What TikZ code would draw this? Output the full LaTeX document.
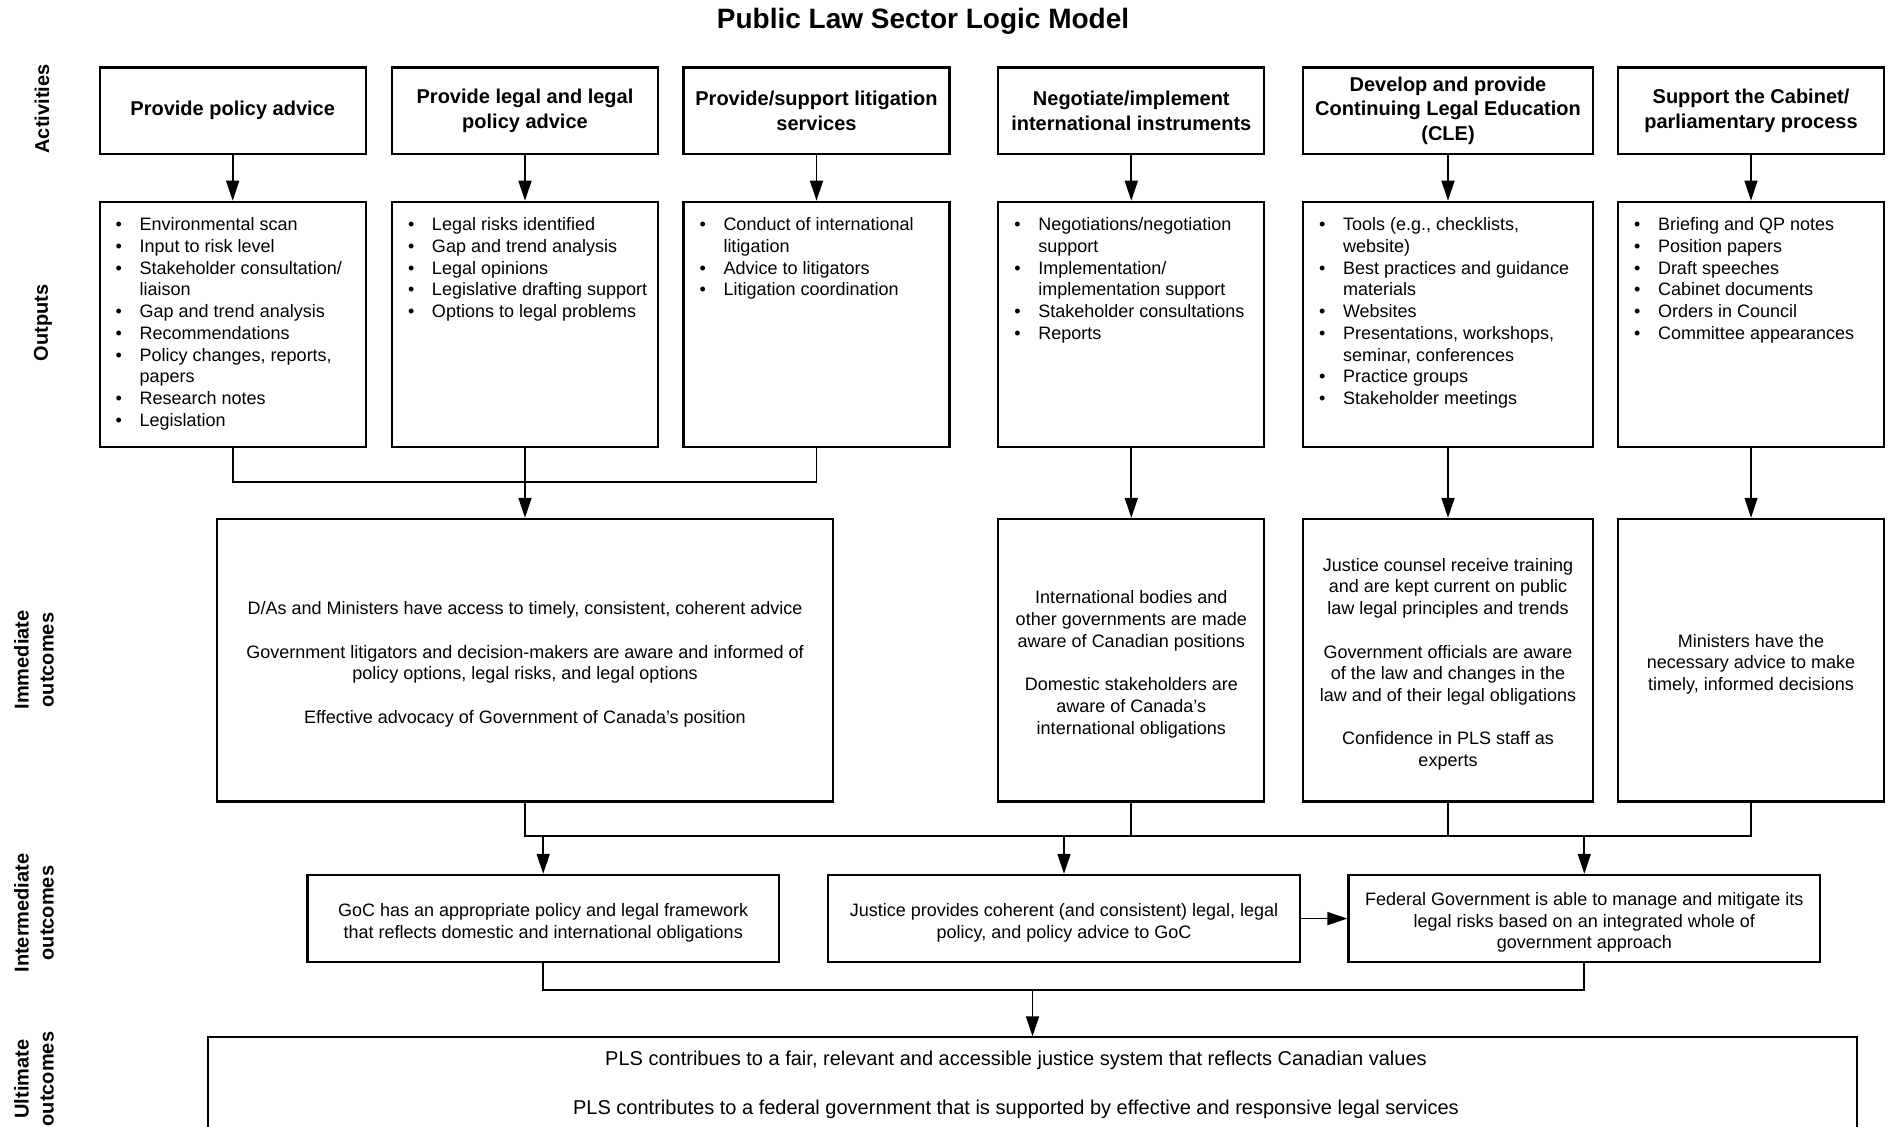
\documentclass[tikz,border=0pt]{standalone}
\usepackage{fontspec}
\setmainfont{Liberation Sans}
\usetikzlibrary{arrows.meta}

\newcommand{\itm}{\par\noindent\hangindent=16pt\hangafter=1\hspace*{4pt}\makebox[12pt][l]{\textbullet}}
\newcommand{\blist}[2]{\parbox[c][122.6pt][t]{#1}{\raggedright\vspace*{8pt}#2}}
\newcommand{\tp}{\rule{0pt}{10.5pt}}

\begin{document}
\begin{tikzpicture}[x=0.5pt,y=-0.5pt,>={Triangle[length=10pt,width=6.5pt]},
  every node/.style={font=\fontsize{9}{10.85}\selectfont},
  actbox/.style={draw,line width=1.15pt,minimum width=133pt,minimum height=43.2pt,inner sep=0pt,align=center,font=\fontsize{10}{12.25}\selectfont\bfseries},
  outbox/.style={draw,line width=1.15pt,inner xsep=4pt,inner ysep=0pt},
  resbox/.style={draw,line width=1.15pt,minimum width=133pt,inner sep=0pt,align=center},
  rowlab/.style={rotate=90,align=center,font=\fontsize{10}{12.5}\selectfont\bfseries},
  link/.style={line width=0.9pt},
  thinlink/.style={line width=0.6pt}]
\useasboundingbox (0,0) rectangle (1892,1127);
\node[font=\fontsize{14}{16}\selectfont\bfseries] (title) at (923,21) {Public Law Sector Logic Model};

\node[rowlab] (lact) at (42,109) {Activities};
\node[rowlab] (lout) at (43,323) {Outputs};
\node[rowlab] (limm) at (34,660) {Immediate\\outcomes};
\node[rowlab] (lint) at (34,913) {Intermediate\\outcomes};
\node[rowlab] (lult) at (34,1079) {Ultimate\\outcomes};

\node[actbox] (a1) at (232.7,110.8) {Provide policy advice};
\node[actbox] (a2) at (525,110.8) {Provide legal and legal\\policy advice};
\node[actbox] (a3) at (816.5,110.8) {Provide/support litigation\\services};
\node[actbox] (a4) at (1131.3,110.8) {Negotiate/implement\\international instruments};
\node[actbox,minimum width=145pt] (a5) at (1448,110.8) {Develop and provide\\Continuing Legal Education\\(CLE)};
\node[actbox] (a6) at (1751,110.8) {Support the Cabinet/\\parliamentary process};

\node[outbox] (o1) at (232.7,324.4) {\blist{125pt}{\itm Environmental scan
  \itm Input to risk level
  \itm Stakeholder consultation/\newline liaison
  \itm Gap and trend analysis
  \itm Recommendations
  \itm Policy changes, reports,\newline papers
  \itm Research notes
  \itm Legislation}};
\node[outbox] (o2) at (525,324.4) {\blist{125pt}{\itm Legal risks identified
  \itm Gap and trend analysis
  \itm Legal opinions
  \itm Legislative drafting support
  \itm Options to legal problems}};
\node[outbox] (o3) at (816.5,324.4) {\blist{125pt}{\itm Conduct of international\newline litigation
  \itm Advice to litigators
  \itm Litigation coordination}};
\node[outbox] (o4) at (1131.3,324.4) {\blist{125pt}{\itm Negotiations/negotiation\newline support
  \itm Implementation/\newline implementation support
  \itm Stakeholder consultations
  \itm Reports}};
\node[outbox] (o5) at (1448,324.4) {\blist{137pt}{\itm Tools (e.g., checklists,\newline website)
  \itm Best practices and guidance\newline materials
  \itm Websites
  \itm Presentations, workshops,\newline seminar, conferences
  \itm Practice groups
  \itm Stakeholder meetings}};
\node[outbox] (o6) at (1751,324.4) {\blist{125pt}{\itm Briefing and QP notes
  \itm Position papers
  \itm Draft speeches
  \itm Cabinet documents
  \itm Orders in Council
  \itm Committee appearances}};

\node[resbox,minimum width=307.7pt,minimum height=141.35pt] (io1) at (525,660.3) {\tp D/As and Ministers have access to timely, consistent, coherent advice\\[10.85pt]
  Government litigators and decision-makers are aware and informed of\\policy options, legal risks, and legal options\\[10.85pt]
  Effective advocacy of Government of Canada's position};
\node[resbox,minimum height=141.35pt] (io2) at (1131.3,660.3) {\tp International bodies and\\other governments are made\\aware of Canadian positions\\[10.85pt]
  Domestic stakeholders are\\aware of Canada's\\international obligations};
\node[resbox,minimum width=145pt,minimum height=141.35pt] (io3) at (1448,660.3) {\tp Justice counsel receive training\\and are kept current on public\\law legal principles and trends\\[10.85pt]
  Government officials are aware\\of the law and changes in the\\law and of their legal obligations\\[10.85pt]
  Confidence in PLS staff as\\experts};
\node[resbox,minimum height=141.35pt] (io4) at (1751,660.3) {\tp Ministers have the\\necessary advice to make\\timely, informed decisions};

\node[resbox,minimum width=235.8pt,minimum height=43.65pt] (im1) at (543.2,918.6) {\tp GoC has an appropriate policy and legal framework\\that reflects domestic and international obligations};
\node[resbox,minimum width=235.8pt,minimum height=43.65pt] (im2) at (1064,918.6) {\tp Justice provides coherent (and consistent) legal, legal\\policy, and policy advice to GoC};
\node[resbox,minimum width=235.8pt,minimum height=43.65pt] (im3) at (1584.3,918.6) {\tp Federal Government is able to manage and mitigate its\\legal risks based on an integrated whole of\\government approach};

\node[draw,line width=0.7pt,minimum width=824.5pt,minimum height=100pt] (ult) at (1032.5,1137) {};
\node[align=center,font=\fontsize{10}{12}\selectfont] (ulttxt) at (1016,1085) {PLS contribues to a fair, relevant and accessible justice system that reflects Canadian values\\[12.5pt]
  PLS contributes to a federal government that is supported by effective and responsive legal services};

\coordinate (j1) at (525,482.3);
\coordinate (j2) at (1131.3,836);
\coordinate (j3) at (1032.5,990);

\draw[->,link] (a1) -- (o1);
\draw[->,link] (a2) -- (o2);
\draw[->,link] (a3) -- (o3);
\draw[->,link] (a4) -- (o4);
\draw[->,link] (a5) -- (o5);
\draw[->,thinlink] (a6) -- (o6);

\draw[link] (o1) |- (j1) -| (o3);
\draw[link] (o2) -- (j1);
\draw[->,link] (j1) -- (io1);
\draw[->,link] (o4) -- (io2);
\draw[->,link] (o5) -- (io3);
\draw[->,thinlink] (o6) -- (io4);

\draw[link] (io1) |- (j2) -| (io4);
\draw[link] (io2) -- (j2);
\draw[link] (io3) -- (io3 |- j2);
\draw[->,link] (im1 |- j2) -- (im1);
\draw[->,link] (im2 |- j2) -- (im2);
\draw[->,link] (im3 |- j2) -- (im3);
\draw[->,link] (im2) -- (im3);

\draw[link] (im1) |- (j3) -| (im3);
\draw[->,link] (j3) -- (ult);
\end{tikzpicture}
\end{document}
